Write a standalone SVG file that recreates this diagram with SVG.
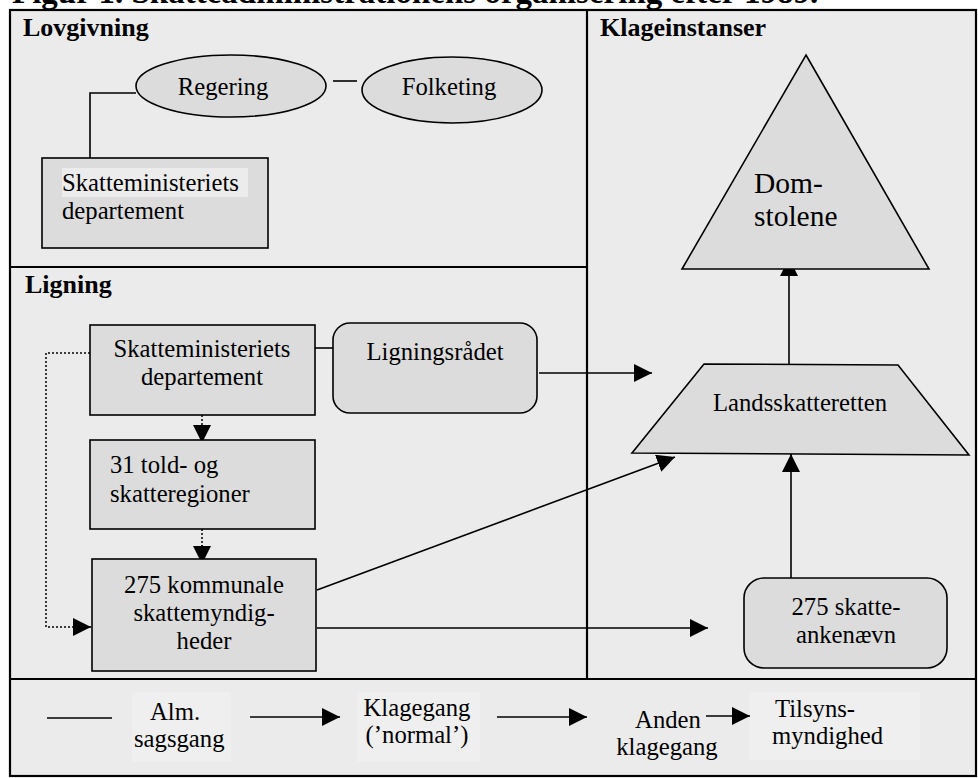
<svg xmlns="http://www.w3.org/2000/svg" width="978" height="778" viewBox="0 0 978 778">
<style>
text{font-family:"Liberation Serif","Times New Roman",serif;fill:#000}
.t{font-size:24.7px}
.h{font-size:26px;font-weight:bold}
.box{fill:#dcdcdc;stroke:#000;stroke-width:1.6}
.frame{fill:none;stroke:#000;stroke-width:2.2}
.ln{fill:none;stroke:#000;stroke-width:1.6}
.dot{fill:none;stroke:#000;stroke-width:1.5;stroke-dasharray:2 2}
.hl{fill:#efefef}
</style>
<defs>
<marker id="ah" markerUnits="userSpaceOnUse" markerWidth="18" markerHeight="18" refX="18" refY="9" orient="auto" viewBox="0 0 18 18">
<path d="M0,0 L18,9 L0,18 Z" fill="#000"/>
</marker>
</defs>
<rect x="0" y="0" width="978" height="778" fill="#ffffff"/>
<text x="12" y="3" style="font-size:33px;font-weight:bold">Figur 1. Skatteadministrationens organisering efter 1989.</text>
<rect x="10" y="10" width="966" height="766" fill="#ebebeb"/>
<g id="frame">
<rect class="frame" x="10" y="10" width="966" height="766"/>
<line class="frame" x1="587" y1="10" x2="587" y2="679"/>
<line class="frame" x1="10" y1="267" x2="587" y2="267"/>
<line class="frame" x1="10" y1="679" x2="976" y2="679"/>
<text class="h" x="23" y="36">Lovgivning</text>
<text class="h" x="600" y="36">Klageinstanser</text>
<text class="h" x="25" y="293">Ligning</text>
</g>
<g id="connectors">
<polyline class="ln" points="136,93 90,93 90,158"/>
<line class="ln" x1="333" y1="81" x2="357" y2="81"/>
<line class="ln" x1="315" y1="348" x2="333" y2="348"/>
<polyline class="dot" points="90,353 46,353 46,627 74,627"/>
<line class="ln" x1="74" y1="627" x2="91" y2="627" marker-end="url(#ah)" stroke-width="0.1"/>
<line class="dot" x1="202" y1="415" x2="202" y2="426"/>
<line class="ln" x1="202" y1="425" x2="202" y2="443" stroke-width="0.1" marker-end="url(#ah)"/>
<line class="dot" x1="202" y1="529" x2="202" y2="546"/>
<line class="ln" x1="202" y1="545" x2="202" y2="564" stroke-width="0.1" marker-end="url(#ah)"/>
<line class="ln" x1="539" y1="373" x2="652" y2="373" marker-end="url(#ah)"/>
<line class="ln" x1="789" y1="373" x2="789" y2="258" marker-end="url(#ah)"/>
<line class="ln" x1="791" y1="578" x2="791" y2="454" marker-end="url(#ah)"/>
<line class="ln" x1="317" y1="590" x2="675" y2="457" marker-end="url(#ah)"/>
<line class="ln" x1="317" y1="628" x2="708" y2="628" marker-end="url(#ah)"/>
</g>
<g id="regering">
<ellipse class="box" cx="231" cy="86" rx="95" ry="31"/>
<text class="t" x="223" y="95" text-anchor="middle">Regering</text>
</g>
<g id="folketing">
<ellipse class="box" cx="452" cy="90" rx="90" ry="33"/>
<text class="t" x="449" y="95" text-anchor="middle">Folketing</text>
</g>
<g id="skm-lov">
<rect class="box" x="42" y="158" width="226" height="90"/>
<rect x="62" y="168" width="186" height="29" fill="#ececec"/>
<text class="t" x="62" y="191">Skatteministeriets</text>
<text class="t" x="62" y="219">departement</text>
</g>
<g id="skm-lig">
<rect class="box" x="90" y="325" width="225" height="90"/>
<text class="t" x="202" y="357" text-anchor="middle">Skatteministeriets</text>
<text class="t" x="202" y="385" text-anchor="middle">departement</text>
</g>
<g id="ligningsraadet">
<rect class="box" x="333" y="323" width="204" height="90" rx="17"/>
<text class="t" x="435" y="360" text-anchor="middle">Ligningsrådet</text>
</g>
<g id="regioner">
<rect class="box" x="90" y="440" width="225" height="89"/>
<text class="t" x="110" y="473">31 told- og</text>
<text class="t" x="110" y="502">skatteregioner</text>
</g>
<g id="kommunale">
<rect class="box" x="92" y="559" width="224" height="112"/>
<text class="t" x="204" y="593" text-anchor="middle">275 kommunale</text>
<text class="t" x="204" y="621" text-anchor="middle">skattemyndig-</text>
<text class="t" x="204" y="649" text-anchor="middle">heder</text>
</g>
<g id="domstolene">
<polygon class="box" points="806,55 929,269 682,269"/>
<text x="754" y="193" style="font-size:29.5px">Dom-</text>
<text x="754" y="226" style="font-size:29.5px">stolene</text>
</g>
<g id="landsskatteretten">
<polygon class="box" points="704,364 898,365 969,455 632,453"/>
<text class="t" x="800" y="411" text-anchor="middle">Landsskatteretten</text>
</g>
<g id="ankenaevn">
<rect class="box" x="744" y="578" width="203" height="90" rx="20"/>
<text class="t" x="846" y="615" text-anchor="middle">275 skatte-</text>
<text class="t" x="846" y="643" text-anchor="middle">ankenævn</text>
</g>
<g id="legend">
<rect class="hl" x="132" y="692" width="99" height="70"/>
<rect class="hl" x="357" y="692" width="123" height="70"/>
<rect class="hl" x="749" y="692" width="171" height="68"/>
<line class="ln" x1="47" y1="718" x2="112" y2="718"/>
<text class="t" x="150" y="720">Alm.</text>
<text class="t" x="134" y="747">sagsgang</text>
<line class="ln" x1="250" y1="717" x2="340" y2="717" marker-end="url(#ah)"/>
<text class="t" x="417" y="716" text-anchor="middle">Klagegang</text>
<text class="t" x="417" y="743" text-anchor="middle">(’normal’)</text>
<line class="ln" x1="497" y1="717" x2="587" y2="717" marker-end="url(#ah)"/>
<text class="t" x="668" y="728" text-anchor="middle">Anden</text>
<text class="t" x="667" y="755" text-anchor="middle">klagegang</text>
<line class="ln" x1="706" y1="716" x2="750" y2="716" marker-end="url(#ah)"/>
<text class="t" x="775" y="717">Tilsyns-</text>
<text class="t" x="772" y="744">myndighed</text>
</g>
</svg>
